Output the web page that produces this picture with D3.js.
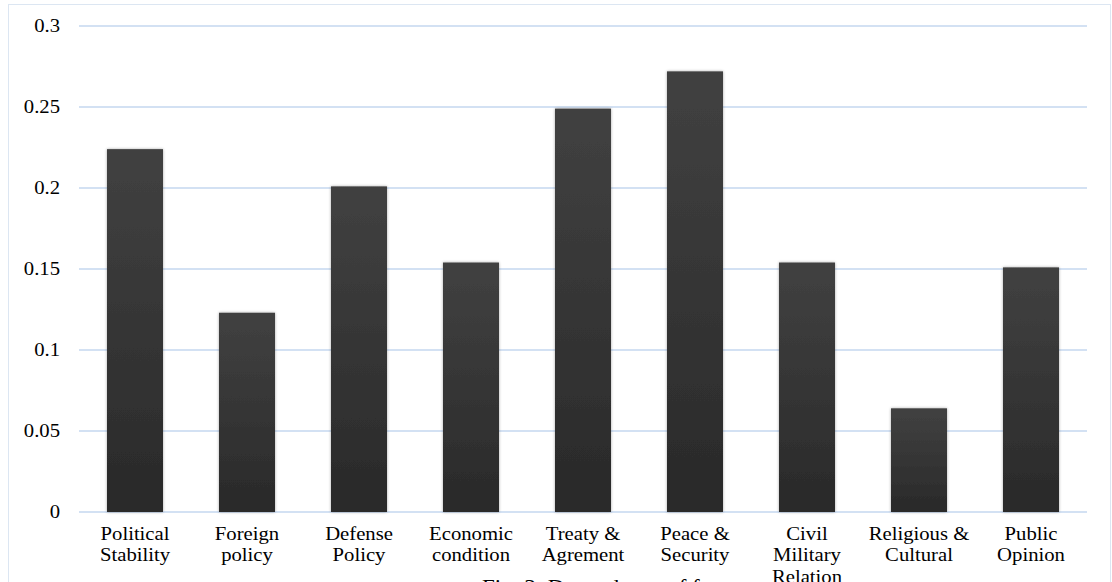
<!DOCTYPE html>
<html>
<head>
<meta charset="utf-8">
<script src="https://cdn.jsdelivr.net/npm/d3@7"></script>
<style>
  body { margin: 0; background: #fff; }
  text { font-family: "Times New Roman", "Liberation Serif", "DejaVu Serif", serif; }
</style>
</head>
<body>
<svg id="chart" width="1112" height="582"></svg>
<script>
var categories = [
    ["Political", "Stability"],
    ["Foreign", "policy"],
    ["Defense", "Policy"],
    ["Economic", "condition"],
    ["Treaty &", "Agrement"],
    ["Peace &", "Security"],
    ["Civil", "Military", "Relation"],
    ["Religious &", "Cultural"],
    ["Public", "Opinion"]
];
var values = [0.224, 0.123, 0.201, 0.154, 0.249, 0.272, 0.154, 0.064, 0.151];
var yTicks = [0, 0.05, 0.1, 0.15, 0.2, 0.25, 0.3];
var yTickLabels = ["0", "0.05", "0.1", "0.15", "0.2", "0.25", "0.3"];
var caption = "Fig. 3: Dependence of factors";

var FONT = "'Liberation Serif', 'Times New Roman', serif";
var STRETCH = 1.15; // source figure text is slightly wide

var svg = d3.select('#chart');
var margin = {top: 26, right: 25, bottom: 70, left: 79};
var width = 1112, height = 582;

var keys = categories.map(function(d){ return d.join(" "); });

var xScale = d3.scaleBand()
    .domain(keys)
    .range([margin.left, width - margin.right])
    .paddingInner(0.5)
    .paddingOuter(0.25);

var yScale = d3.scaleLinear()
    .domain([0, 0.3])
    .range([height - margin.bottom, margin.top]);

// chart frame
svg.append("rect")
    .attr("x", 8.5).attr("y", 4.5)
    .attr("width", 1102).attr("height", 600)
    .style("fill", "none")
    .style("stroke", "#dce6f2")
    .style("stroke-width", 1);

var defs = svg.append("defs");
var grad = defs.append("linearGradient")
    .attr("id", "barGrad")
    .attr("x1", 0).attr("y1", 0).attr("x2", 0).attr("y2", 1);
grad.append("stop").attr("offset", "0%").attr("stop-color", "#414141");
grad.append("stop").attr("offset", "100%").attr("stop-color", "#292929");

var shadow = defs.append("filter").attr("id", "shadow")
    .attr("x", "-20%").attr("y", "-5%").attr("width", "140%").attr("height", "110%");
shadow.append("feGaussianBlur").attr("in", "SourceAlpha").attr("stdDeviation", 1.5).attr("result", "b");
shadow.append("feComponentTransfer").append("feFuncA").attr("type", "linear").attr("slope", 0.35);
var merge = shadow.append("feMerge");
merge.append("feMergeNode");
merge.append("feMergeNode").attr("in", "SourceGraphic");

// gridlines
svg.append("g")
    .selectAll("line")
    .data(yTicks)
    .enter()
    .append("line")
    .attr("x1", margin.left)
    .attr("x2", width - margin.right)
    .attr("y1", function(d){ return yScale(d); })
    .attr("y2", function(d){ return yScale(d); })
    .style("stroke", "#c5d7ef")
    .style("stroke-width", 1.5);

// y labels
svg.append("g")
    .selectAll("text")
    .data(yTicks)
    .enter()
    .append("text")
    .attr("transform", function(d){
        return "translate(60," + (yScale(d) + 6) + ") scale(" + STRETCH + ",1)";
    })
    .attr("text-anchor", "end")
    .attr("font-family", FONT)
    .style("font-size", "18px")
    .style("fill", "#000")
    .text(function(d, i){ return yTickLabels[i]; });

// bars
svg.append("g")
    .selectAll("rect")
    .data(values)
    .enter()
    .append("rect")
    .attr("x", function(d, i){ return xScale(keys[i]); })
    .attr("y", function(d){ return yScale(d); })
    .attr("width", xScale.bandwidth())
    .attr("height", function(d){ return yScale(0) - yScale(d); })
    .style("fill", "url(#barGrad)")
    .attr("filter", "url(#shadow)");

// category labels
var labels = svg.append("g")
    .selectAll("text")
    .data(categories)
    .enter()
    .append("text")
    .attr("text-anchor", "middle")
    .attr("font-family", FONT)
    .style("font-size", "18px")
    .style("fill", "#000")
    .attr("transform", function(d, i){
        return "translate(" + (xScale(keys[i]) + xScale.bandwidth() / 2) + ",540) scale(" + STRETCH + ",1)";
    });

labels.selectAll("tspan")
    .data(function(d){ return d; })
    .enter()
    .append("tspan")
    .attr("x", 0)
    .attr("y", function(d, i){ return i * 21.5; })
    .text(function(d){ return d; });

// caption, mostly cut off at bottom as in the source figure
svg.append("text")
    .attr("transform", "translate(482,594) scale(" + STRETCH + ",1)")
    .attr("font-family", FONT)
    .style("font-size", "20px")
    .style("fill", "#000")
    .text(caption);
</script>
</body>
</html>
